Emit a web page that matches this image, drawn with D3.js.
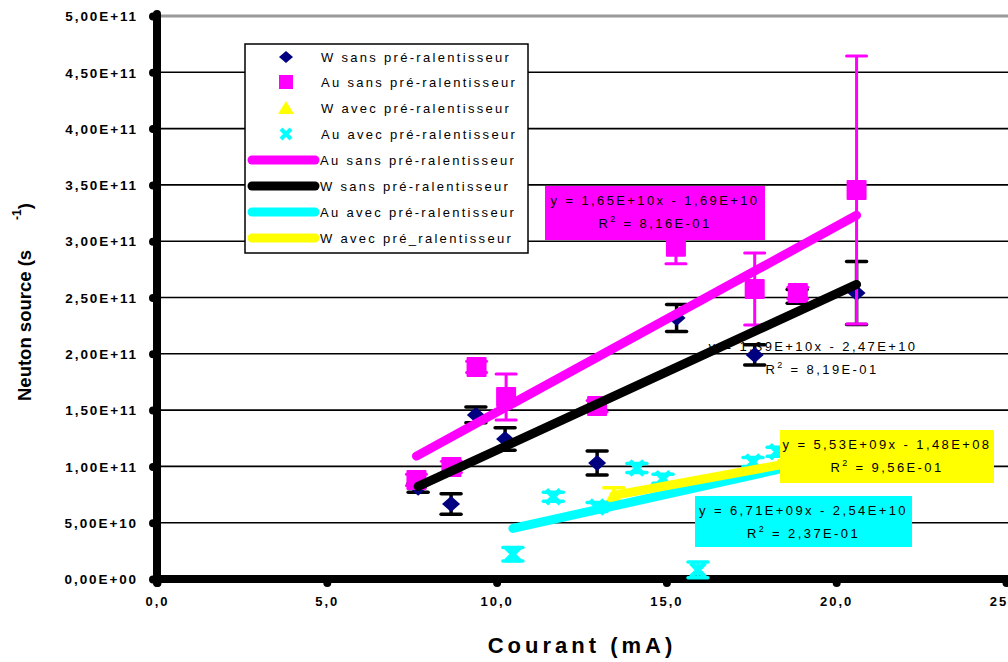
<!DOCTYPE html>
<html><head><meta charset="utf-8">
<script src="https://cdn.jsdelivr.net/npm/d3@7"></script>
<style>
body{margin:0;background:#fff;}
text{font-family:"Liberation Sans",Arial,sans-serif;}
</style></head>
<body><svg id="c" width="1008" height="662"></svg>
<script>
// ---- data ----
const xTickVals = [0, 5, 10, 15, 20, 25];
const xTickLabels = ["0,0", "5,0", "10,0", "15,0", "20,0", "25,0"];
const yTickVals = [0, 5e10, 1e11, 1.5e11, 2e11, 2.5e11, 3e11, 3.5e11, 4e11, 4.5e11, 5e11];
const yTickLabels = ["0,00E+00","5,00E+10","1,00E+11","1,50E+11","2,00E+11","2,50E+11","3,00E+11","3,50E+11","4,00E+11","4,50E+11","5,00E+11"];

const wSansX   = [7.69, 8.66, 9.39, 10.25, 12.96, 15.30, 17.60, 18.85, 20.60];
const wSansY   = [8.1e10, 6.66e10, 1.457e11, 1.243e11, 1.03e11, 2.318e11, 1.99e11, 2.51e11, 2.54e11];
const wSansErr = [0.4e10, 0.9e10, 0.7e10, 1.0e10, 1.07e10, 1.2e10, 0.9e10, 0.6e10, 2.8e10];

const auSansX   = [7.64, 8.67, 9.41, 10.28, 12.96, 15.28, 17.60, 18.87, 20.60];
const auSansY   = [8.8e10, 9.95e10, 1.883e11, 1.616e11, 1.536e11, 2.95e11, 2.575e11, 2.54e11, 3.455e11];
const auSansErr = [0.5e10, 0.5e10, 0.5e10, 2.04e10, 0.5e10, 1.5e10, 3.2e10, 0.5e10, 1.19e11];

const wAvecX   = [13.45, 18.6, 19.6, 20.6];
const wAvecY   = [7.4e10, 1.0e11, 1.06e11, 1.13e11];
const wAvecErr = [0.7e10, 0.5e10, 0.5e10, 0.5e10];

const auAvecX   = [10.48, 11.67, 12.96, 14.13, 14.90, 15.93, 17.55, 18.26];
const auAvecY   = [2.2e10, 7.3e10, 6.4e10, 9.86e10, 8.9e10, 0.8e10, 1.04e11, 1.13e11];
const auAvecErr = [0.6e10, 0.4e10, 0.4e10, 0.4e10, 0.4e10, 0.7e10, 0.4e10, 0.4e10];

// trend lines: [slope, intercept]
const trendAuSans = [1.65e10, -1.69e10];
const trendWSans  = [1.39e10, -2.47e10];
const trendAuAvec = [6.71e9, -2.54e10];
const trendWAvec  = [5.53e9, -1.48e8];

const legendLabels = ["W sans pré-ralentisseur","Au sans pré-ralentisseur","W avec pré-ralentisseur","Au avec pré-ralentisseur",
  "Au sans pré-ralentisseur","W sans pré-ralentisseur","Au avec pré-ralentisseur","W avec pré_ralentisseur"];

const eqAuSans = ["y = 1,65E+10x - 1,69E+10", "8,16E-01"];
const eqWSans  = ["y = 1,39E+10x - 2,47E+10", "8,19E-01"];
const eqWAvec  = ["y = 5,53E+09x - 1,48E+08", "9,56E-01"];
const eqAuAvec = ["y = 6,71E+09x - 2,54E+10", "2,37E-01"];

const C = {navy:"#000080", mag:"#ff00ff", yel:"#ffff00", cyan:"#00ffff", blk:"#000000"};

// ---- chart ----
const svg = d3.select("#c");
const x = d3.scaleLinear().domain([0,25]).range([157,1006]);
const y = d3.scaleLinear().domain([0,5e11]).range([579,16]);

// gridlines
svg.append("g").selectAll("line").data(yTickVals.filter(v=>v>0 && v<5e11)).join("line")
  .attr("x1", x(0)).attr("x2", 1008).attr("y1", d=>y(d)).attr("y2", d=>y(d))
  .attr("stroke","#000").attr("stroke-width",1.6);
svg.append("line").attr("x1",x(0)).attr("x2",1008).attr("y1",y(5e11)).attr("y2",y(5e11))
  .attr("stroke","#9a9a9a").attr("stroke-width",3);

// axes
const yAxis = d3.axisLeft(y).tickValues(yTickVals).tickSize(6).tickSizeOuter(0)
  .tickFormat((d,i)=>yTickLabels[i]);
const gy = svg.append("g").attr("transform",`translate(${x(0)},0)`).call(yAxis);
gy.select(".domain").remove();
gy.selectAll(".tick line").attr("stroke","#000").attr("stroke-width",8).attr("stroke-linecap","round").attr("x1",-2).attr("x2",-4);
gy.selectAll(".tick text").attr("x",-19).attr("dy","0.35em").attr("font-size",13.5).attr("font-weight","bold")
  .attr("letter-spacing","1.9px").attr("fill","#000").attr("font-family","'Liberation Sans',Arial,sans-serif");

const xAxis = d3.axisBottom(x).tickValues(xTickVals).tickSize(6).tickSizeOuter(0)
  .tickFormat((d,i)=>xTickLabels[i]);
const gx = svg.append("g").attr("transform",`translate(0,${y(0)})`).call(xAxis);
gx.select(".domain").remove();
gx.selectAll(".tick line").attr("stroke","#000").attr("stroke-width",8).attr("stroke-linecap","round").attr("y1",2).attr("y2",4);
gx.selectAll(".tick text").attr("y",22).attr("dy","0.35em").attr("font-size",13).attr("font-weight","bold")
  .attr("letter-spacing","2px").attr("fill","#000").attr("font-family","'Liberation Sans',Arial,sans-serif");

svg.append("line").attr("x1",x(0)).attr("x2",x(0)).attr("y1",y(5e11)-2).attr("y2",y(0)+4)
  .attr("stroke","#000").attr("stroke-width",8).attr("stroke-linecap","round");
svg.append("line").attr("x1",x(0)).attr("x2",1010).attr("y1",y(0)).attr("y2",y(0))
  .attr("stroke","#000").attr("stroke-width",8).attr("stroke-linecap","round");

// axis titles
svg.append("text").attr("x",582).attr("y",653).attr("text-anchor","middle")
  .attr("font-size",22).attr("font-weight","bold").attr("letter-spacing","4px").text("Courant (mA)");
const yt = svg.append("text").attr("transform","translate(31,401) rotate(-90)")
  .attr("font-size",18.5).attr("font-weight","bold");
yt.append("tspan").text("Neuton source (s");
yt.append("tspan").attr("dx",30).attr("dy",-10).attr("font-size",12).text("-1");
yt.append("tspan").attr("dy",10).attr("dx",0).text(")");

// W sans label (drawn under series)
function eqText(g, cx, y1, lines, cx2){
  g.append("text").attr("x",cx).attr("y",y1).attr("text-anchor","middle").attr("font-size",13)
    .attr("letter-spacing","2.4px").text(lines[0]);
  const t = g.append("text").attr("x",cx2 || cx).attr("y",y1+23).attr("text-anchor","middle").attr("font-size",13).attr("letter-spacing","2.4px");
  t.append("tspan").text("R");
  t.append("tspan").attr("dy",-6).attr("font-size",9).text("2");
  t.append("tspan").attr("dy",6).text(" = " + lines[1]);
}
const gW = svg.append("g");
eqText(gW, 813, 351, eqWSans, 822);

// series helpers
function zip(xs, ys, es){ return xs.map((v,i)=>({x:v, y:ys[i], e:es ? es[i] : 0})); }
function errorBars(data, color, w){
  const g = svg.append("g").attr("stroke",color).attr("stroke-width",w);
  g.selectAll(".v").data(data).join("line").attr("x1",d=>x(d.x)).attr("x2",d=>x(d.x))
    .attr("y1",d=>y(d.y+d.e)).attr("y2",d=>y(d.y-d.e));
  g.selectAll(".t").data(data).join("line").attr("x1",d=>x(d.x)-10).attr("x2",d=>x(d.x)+10)
    .attr("y1",d=>y(d.y+d.e)).attr("y2",d=>y(d.y+d.e)).attr("stroke-linecap","round");
  g.selectAll(".b").data(data).join("line").attr("x1",d=>x(d.x)-10).attr("x2",d=>x(d.x)+10)
    .attr("y1",d=>y(d.y-d.e)).attr("y2",d=>y(d.y-d.e)).attr("stroke-linecap","round");
}
const diamond = "M0,-8L9,0L0,8L-9,0Z";
const square = "M-9,-9H9V9H-9Z";
const tri = "M0,-8L9,7H-9Z";
const cross = "M-7,-7L7,7M7,-7L-7,7";

const dWS = zip(wSansX, wSansY, wSansErr);
const dAS = zip(auSansX, auSansY, auSansErr);
const dWA = zip(wAvecX, wAvecY, wAvecErr);
const dAA = zip(auAvecX, auAvecY, auAvecErr);

errorBars(dWS, C.blk, 3.5);
svg.append("g").selectAll("path").data(dWS).join("path").attr("d",diamond)
  .attr("transform",d=>`translate(${x(d.x)},${y(d.y)})`).attr("fill",C.navy);
errorBars(dAS, C.mag, 3);
svg.append("g").selectAll("path").data(dAS).join("path").attr("d",square)
  .attr("transform",d=>`translate(${x(d.x)},${y(d.y)})`).attr("fill",C.mag).attr("stroke",C.mag).attr("stroke-width",2).attr("stroke-linejoin","round");
errorBars(dWA, C.yel, 3.5);
svg.append("g").selectAll("path").data(dWA).join("path").attr("d",tri)
  .attr("transform",d=>`translate(${x(d.x)},${y(d.y)})`).attr("fill",C.yel);
errorBars(dAA, C.cyan, 3.5);
svg.append("g").selectAll("path").data(dAA).join("path").attr("d",cross)
  .attr("transform",d=>`translate(${x(d.x)},${y(d.y)})`).attr("stroke",C.cyan).attr("stroke-width",5).attr("fill","none");

// trend lines
function trend(coef, xs, color){
  const x0 = d3.min(xs), x1 = d3.max(xs);
  svg.append("line").attr("x1",x(x0)).attr("x2",x(x1))
    .attr("y1",y(coef[0]*x0+coef[1])).attr("y2",y(coef[0]*x1+coef[1]))
    .attr("stroke",color).attr("stroke-width",9).attr("stroke-linecap","round");
}
trend(trendAuSans, auSansX, C.mag);
trend(trendWSans, wSansX, C.blk);
trend(trendAuAvec, auAvecX, C.cyan);
trend(trendWAvec, wAvecX, C.yel);

// boxed labels
function boxLabel(bx, by, bw, bh, color, lines){
  const g = svg.append("g");
  g.append("rect").attr("x",bx).attr("y",by).attr("width",bw).attr("height",bh).attr("fill",color);
  eqText(g, bx+bw/2, by+19, lines);
}
boxLabel(545, 186, 220, 54, C.mag, eqAuSans);
boxLabel(780, 430, 214, 53, C.yel, eqWAvec);
boxLabel(695, 496, 217, 51, C.cyan, eqAuAvec);

// legend
const lg = svg.append("g");
lg.append("rect").attr("x",245).attr("y",44).attr("width",283).attr("height",209)
  .attr("fill","#fff").attr("stroke","#000").attr("stroke-width",1.5);
const rowsY = [57, 82, 108, 134, 160, 186, 212, 238];
const mk = [
  {d:"M0,-6L7,0L0,6L-7,0Z", c:C.navy, f:true},
  {d:"M-7,-7H7V7H-7Z", c:C.mag, f:true},
  {d:"M0,-7L8,6H-8Z", c:C.yel, f:true},
  {d:"M-5,-5L5,5M5,-5L-5,5", c:C.cyan, f:false}
];
mk.forEach((m,i)=>{
  const p = lg.append("path").attr("d",m.d).attr("transform",`translate(286,${rowsY[i]})`);
  if(m.f) p.attr("fill",m.c); else p.attr("fill","none").attr("stroke",m.c).attr("stroke-width",4);
});
[C.mag, C.blk, C.cyan, C.yel].forEach((c,i)=>{
  lg.append("line").attr("x1",252).attr("x2",315).attr("y1",rowsY[4+i]).attr("y2",rowsY[4+i])
    .attr("stroke",c).attr("stroke-width",9).attr("stroke-linecap","round");
});
lg.selectAll("text").data(legendLabels).join("text")
  .attr("x",(d,i)=> i<4 ? 321 : 320).attr("y",(d,i)=>rowsY[i]).attr("dy","0.35em")
  .attr("font-size",13).attr("letter-spacing","2.3px").text(d=>d);
</script></body></html>
